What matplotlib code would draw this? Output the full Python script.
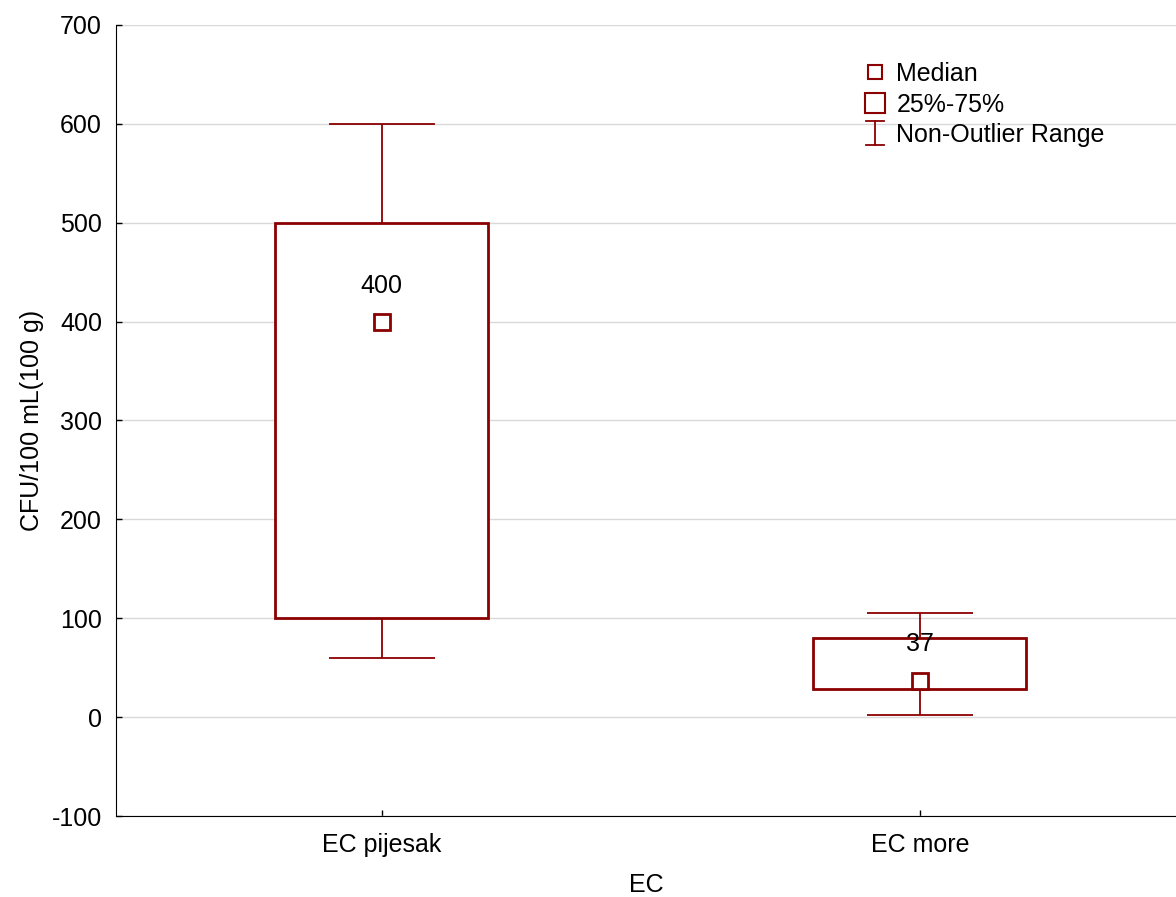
import numpy as np
import matplotlib.pyplot as plt
from matplotlib.lines import Line2D
from matplotlib.legend_handler import HandlerBase

# -------------------------------
# Data
# -------------------------------
categories = ["EC pijesak", "EC more"]
medians = [400, 37]
q25 = [100, 28]
q75 = [500, 80]
whisk_lo = [60, 2]
whisk_hi = [600, 105]

red = "#8b0000"
plt.rcParams['font.family'] = ['Liberation Sans', 'DejaVu Sans']
plt.rcParams['font.size'] = 18
plt.rcParams['axes.unicode_minus'] = False


class RangeHandler(HandlerBase):
    # little "I" symbol for the whisker range entry
    def create_artists(self, legend, orig_handle, xdescent, ydescent,
                       width, height, fontsize, trans):
        cx = width / 2 - xdescent
        y0 = -ydescent - 0.2 * height
        y1 = height - ydescent + 0.2 * height
        cw = 0.4 * width
        arts = [Line2D([cx, cx], [y0, y1]),
                Line2D([cx - cw, cx + cw], [y0, y0]),
                Line2D([cx - cw, cx + cw], [y1, y1])]
        for a in arts:
            a.set_color(red)
            a.set_linewidth(1.3)
            a.set_transform(trans)
        return arts


fig = plt.figure(figsize=(11.76, 8.97), dpi=100)
ax = fig.add_axes([116 / 1176, 81 / 897, 1 - 116 / 1176, 791 / 897])

x = np.arange(len(categories))
box_w = 0.396

# whiskers (box drawn on top hides the middle part)
mid = (np.array(q25) + np.array(q75)) / 2
ax.errorbar(x, mid, yerr=[mid - np.array(whisk_lo), np.array(whisk_hi) - mid],
            fmt='none', ecolor=red, elinewidth=1.3, capsize=38, capthick=1.3,
            zorder=3)

ax.bar(x, np.array(q75) - np.array(q25), bottom=q25, width=box_w,
       facecolor='white', edgecolor=red, linewidth=2, zorder=4)

ax.plot(x, medians, linestyle='none', marker='s', markersize=11,
        markerfacecolor='white', markeredgecolor=red, markeredgewidth=2,
        zorder=5)

for xi, m in zip(x, medians):
    ax.annotate(str(m), (xi, m), xytext=(0, 26), textcoords='offset points',
                ha='center', va='center', zorder=6)

# -------------------------------
# Axes styling
# -------------------------------
ax.set_xlim(-0.494, 1.476)
ax.set_ylim(-100, 700)
ax.set_yticks(np.arange(-100, 701, 100))
ax.set_xticks(x)
ax.set_xticklabels(categories)
ax.yaxis.grid(True, color='#d9d9d9', linewidth=1)
ax.set_axisbelow(True)
for s in ['top', 'right']:
    ax.spines[s].set_visible(False)
ax.tick_params(direction='in', length=4, width=1)
ax.tick_params(axis='y', pad=10)
ax.tick_params(axis='x', pad=12)
ax.set_xlabel("EC", labelpad=12)
ax.set_ylabel("CFU/100 mL(100 g)", labelpad=6)

# -------------------------------
# Legend
# -------------------------------
h_med = Line2D([], [], linestyle='none', marker='s', markersize=10,
               markerfacecolor='white', markeredgecolor=red, markeredgewidth=1.5)
h_box = Line2D([], [], linestyle='none', marker='s', markersize=15,
               markerfacecolor='white', markeredgecolor=red, markeredgewidth=1.5)
h_rng = object()
ax.legend([h_med, h_box, h_rng], ["Median", "25%-75%", "Non-Outlier Range"],
          handler_map={h_rng: RangeHandler()},
          loc='upper left', bbox_to_anchor=(864 / 1176, 1 - 62 / 897),
          bbox_transform=fig.transFigure, frameon=False,
          handlelength=0.9, handletextpad=0.4, labelspacing=0.26,
          borderpad=0, borderaxespad=0)

plt.savefig("out.png", dpi=100)
